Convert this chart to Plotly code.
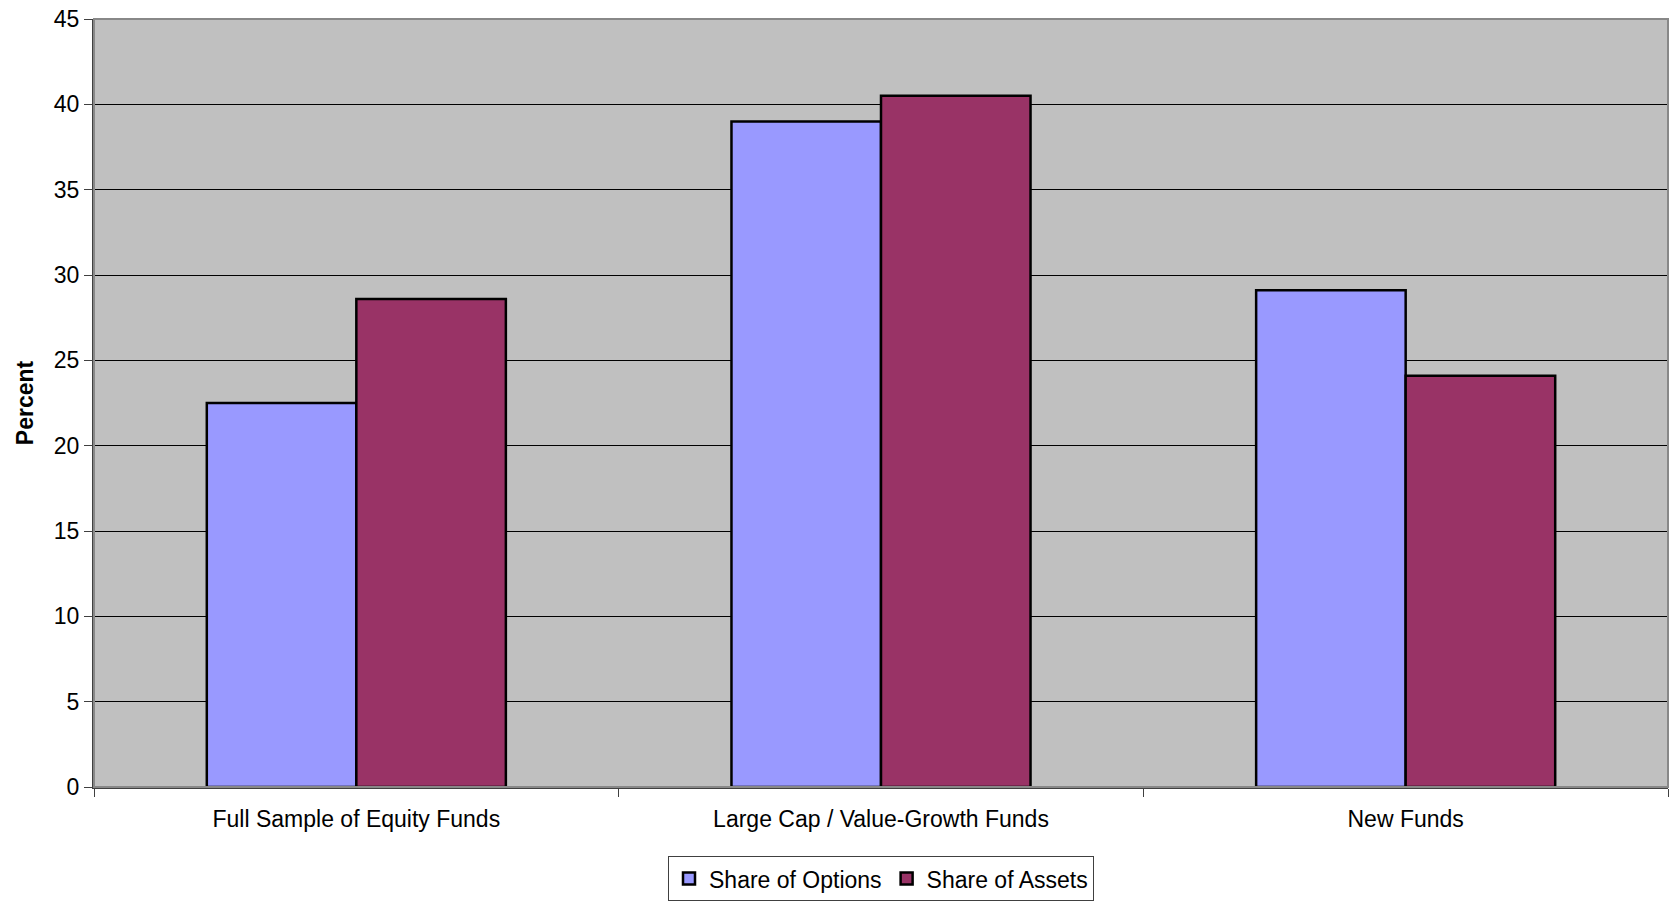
import plotly.graph_objects as go

categories = ["Full Sample of Equity Funds", "Large Cap / Value-Growth Funds", "New Funds"]
share_of_options = [22.5, 39.0, 29.1]
share_of_assets = [28.6, 40.5, 24.1]
y_ticks = [0, 5, 10, 15, 20, 25, 30, 35, 40, 45]

FONT = "Liberation Sans, Arial, sans-serif"

fig = go.Figure()
fig.add_trace(go.Bar(
    name="Share of Options", x=categories, y=share_of_options,
    marker=dict(color="#9999FF", line=dict(color="#000000", width=2.5)),
))
fig.add_trace(go.Bar(
    name="Share of Assets", x=categories, y=share_of_assets,
    marker=dict(color="#993366", line=dict(color="#000000", width=2.5)),
))

fig.update_layout(
    width=1674, height=901,
    margin=dict(l=94, r=6, t=19, b=114, autoexpand=False),
    paper_bgcolor="white",
    plot_bgcolor="#C0C0C0",
    barmode="group",
    bargap=0.43,
    bargroupgap=0,
    font=dict(family=FONT, size=23, color="black"),
    showlegend=True,
    legend=dict(
        orientation="h", x=0.5, xanchor="center", y=-0.09, yanchor="top",
        bordercolor="#404040", borderwidth=1, bgcolor="white",
        font=dict(family=FONT, size=23, color="black"),
        itemwidth=30, tracegroupgap=0,
    ),
    xaxis=dict(
        showgrid=False, ticks="outside", tickson="boundaries", ticklen=8,
        tickcolor="#404040", tickwidth=1,
        showline=True, linecolor="#404040", linewidth=2,
        tickfont=dict(family=FONT, size=23, color="black"),
        ticklabelstandoff=10,
    ),
    yaxis=dict(
        range=[0, 45], tickvals=y_ticks, showgrid=True, gridcolor="#000000", gridwidth=1,
        zeroline=False, ticks="outside", ticklen=8, tickcolor="#404040",
        showline=True, linecolor="#404040", linewidth=2,
        tickfont=dict(family=FONT, size=23, color="black"),
        title=dict(text="<b>Percent</b>", font=dict(family=FONT, size=23, color="black"), standoff=14),
    ),
    shapes=[dict(type="rect", xref="paper", yref="paper", x0=0, x1=1, y0=0, y1=1,
                 line=dict(color="#888888", width=2), layer="above")],
)

fig.write_html("out.html")
